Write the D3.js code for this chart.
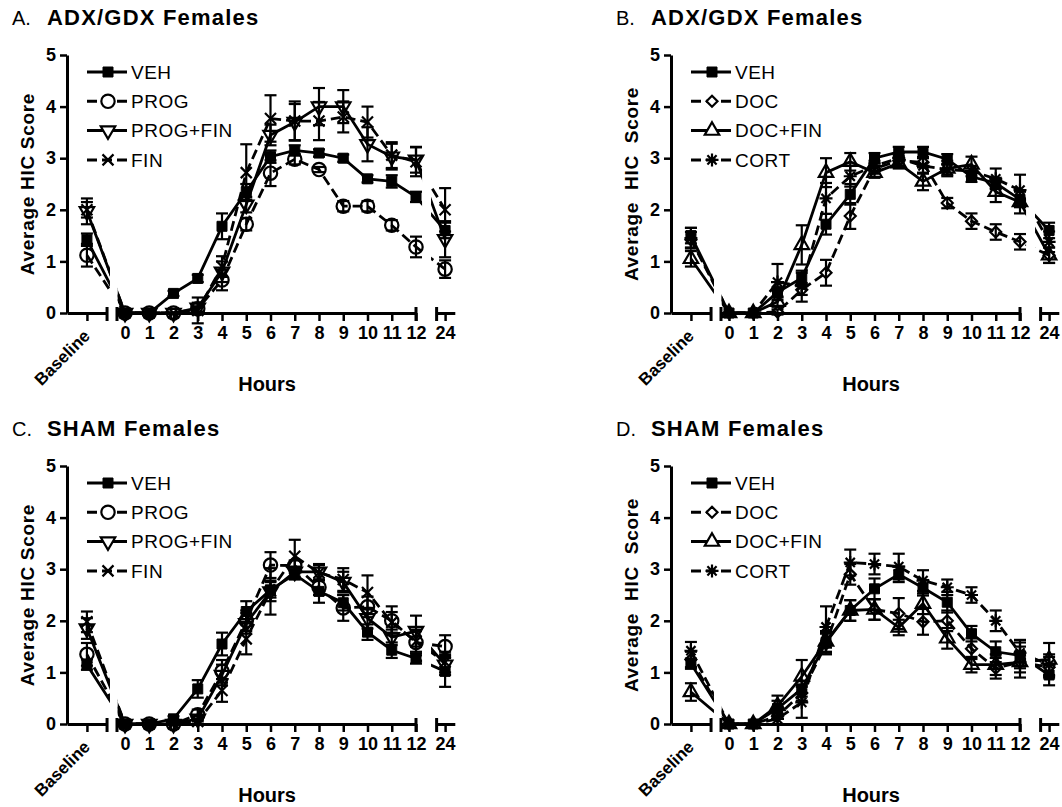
<!DOCTYPE html>
<html>
<head>
<meta charset="utf-8">
<script src="https://cdn.jsdelivr.net/npm/d3@7"></script>
<style>
  body { margin: 0; background: #fff; }
  text { font-family: "Liberation Sans", Arial, Helvetica, sans-serif; }
</style>
</head>
<body>
<div id="chart"></div>
<script>
'use strict';

// time points on the x axis (Baseline, hours 0-12, 24)
const timeLabels = ['Baseline', '0', '1', '2', '3', '4', '5', '6', '7', '8', '9', '10', '11', '12', '24'];
const yTicks = [0, 1, 2, 3, 4, 5];

// A. ADX/GDX females
const aVeh        = [1.42, 0, 0, 0.38, 0.67, 1.68, 2.35, 3.03, 3.15, 3.10, 3.00, 2.60, 2.55, 2.25, 1.60];
const aVehErr     = [0.12, 0, 0, 0.05, 0.07, 0.25, 0.15, 0.12, 0.10, 0.07, 0.07, 0.07, 0.12, 0.10, 0.15];
const aProg       = [1.12, 0, 0, 0, 0.08, 0.64, 1.72, 2.71, 2.98, 2.78, 2.07, 2.07, 1.70, 1.28, 0.85];
const aProgErr    = [0.22, 0, 0, 0, 0.05, 0.20, 0.12, 0.25, 0.10, 0.05, 0.10, 0.10, 0.10, 0.20, 0.17];
const aProgFin    = [1.97, 0, 0, 0, 0.10, 0.80, 2.10, 3.45, 3.70, 4.00, 4.00, 3.27, 3.03, 2.97, 1.43];
const aProgFinErr = [0.25, 0, 0, 0, 0.10, 0.20, 0.15, 0.20, 0.35, 0.36, 0.32, 0.33, 0.25, 0.25, 0.35];
const aFin        = [2.00, 0, 0, 0, 0.05, 0.90, 2.72, 3.77, 3.72, 3.72, 3.80, 3.70, 3.06, 2.93, 2.00];
const aFinErr     = [0.15, 0, 0, 0, 0.25, 0.20, 0.55, 0.45, 0.38, 0.37, 0.30, 0.30, 0.25, 0.28, 0.42];

// B. ADX/GDX females
const bVeh        = [1.50, 0, 0, 0.40, 0.68, 1.72, 2.30, 3.00, 3.12, 3.12, 2.98, 2.64, 2.52, 2.20, 1.60];
const bVehErr     = [0.15, 0, 0, 0.10, 0.10, 0.20, 0.20, 0.10, 0.10, 0.10, 0.10, 0.10, 0.10, 0.15, 0.15];
const bDoc        = [1.42, 0, 0, 0.02, 0.45, 0.78, 1.88, 2.80, 2.95, 2.92, 2.13, 1.78, 1.57, 1.38, 1.12];
const bDocErr     = [0.15, 0, 0, 0.05, 0.10, 0.25, 0.25, 0.10, 0.10, 0.10, 0.10, 0.15, 0.15, 0.15, 0.15];
const bDocFin     = [1.05, 0, 0, 0.22, 1.32, 2.72, 2.93, 2.72, 2.90, 2.55, 2.80, 2.88, 2.35, 2.15, 1.12];
const bDocFinErr  = [0.15, 0, 0, 0.10, 0.38, 0.28, 0.17, 0.10, 0.10, 0.17, 0.15, 0.15, 0.20, 0.22, 0.15];
const bCort       = [1.45, 0, 0, 0.60, 0.52, 2.22, 2.65, 2.85, 3.00, 2.85, 2.78, 2.75, 2.60, 2.38, 1.38];
const bCortErr    = [0.20, 0, 0, 0.35, 0.30, 0.30, 0.20, 0.10, 0.10, 0.15, 0.10, 0.10, 0.20, 0.30, 0.20];

// C. SHAM females
const cVeh        = [1.15, 0, 0, 0.10, 0.68, 1.55, 2.18, 2.60, 2.90, 2.57, 2.35, 1.78, 1.43, 1.27, 1.02];
const cVehErr     = [0.10, 0, 0, 0.05, 0.17, 0.22, 0.20, 0.15, 0.10, 0.22, 0.15, 0.15, 0.15, 0.10, 0.30];
const cProg       = [1.35, 0, 0, 0, 0.18, 1.02, 2.00, 3.08, 3.07, 2.65, 2.25, 2.27, 2.00, 1.58, 1.50];
const cProgErr    = [0.22, 0, 0, 0, 0.10, 0.22, 0.20, 0.25, 0.10, 0.15, 0.25, 0.20, 0.28, 0.25, 0.22];
const cProgFin    = [1.85, 0, 0, 0, 0.10, 0.95, 1.95, 2.57, 2.95, 2.95, 2.75, 2.05, 1.68, 1.80, 1.15];
const cProgFinErr = [0.20, 0, 0, 0, 0.05, 0.20, 0.20, 0.45, 0.10, 0.15, 0.20, 0.20, 0.15, 0.30, 0.20];
const cFin        = [1.98, 0, 0, 0, 0.05, 0.65, 1.65, 2.58, 3.25, 2.93, 2.80, 2.55, 1.97, 1.60, 1.20];
const cFinErr     = [0.20, 0, 0, 0, 0.05, 0.22, 0.30, 0.20, 0.32, 0.15, 0.22, 0.33, 0.20, 0.20, 0.20];

// D. SHAM females
const dVeh        = [1.17, 0, 0, 0.30, 0.68, 1.58, 2.20, 2.62, 2.90, 2.64, 2.36, 1.75, 1.40, 1.33, 0.95];
const dVehErr     = [0.10, 0, 0, 0.15, 0.15, 0.20, 0.20, 0.20, 0.15, 0.15, 0.20, 0.15, 0.20, 0.25, 0.20];
const dDoc        = [1.25, 0, 0, 0.15, 0.60, 1.55, 2.90, 2.22, 2.14, 1.98, 2.00, 1.46, 1.08, 1.20, 1.10];
const dDocErr     = [0.15, 0, 0, 0.05, 0.15, 0.20, 0.20, 0.20, 0.30, 0.25, 0.20, 0.20, 0.20, 0.20, 0.20];
const dDocFin     = [0.62, 0, 0, 0.35, 0.92, 1.60, 2.20, 2.22, 1.87, 2.33, 1.66, 1.15, 1.15, 1.20, 1.25];
const dDocFinErr  = [0.17, 0, 0, 0.20, 0.32, 0.20, 0.20, 0.20, 0.15, 0.20, 0.20, 0.15, 0.20, 0.30, 0.32];
const dCort       = [1.42, 0, 0, 0.10, 0.42, 1.88, 3.13, 3.10, 3.05, 2.78, 2.65, 2.50, 2.00, 1.38, 1.15];
const dCortErr    = [0.17, 0, 0, 0.10, 0.30, 0.40, 0.25, 0.20, 0.25, 0.20, 0.15, 0.15, 0.20, 0.25, 0.20];

const panels = [
  { letter: 'A.', title: 'ADX/GDX Females', ylab: 'Average HIC Score', series: [
    { name: 'VEH', values: aVeh, err: aVehErr, marker: 'square', dashed: false },
    { name: 'PROG', values: aProg, err: aProgErr, marker: 'circle', dashed: true },
    { name: 'PROG+FIN', values: aProgFin, err: aProgFinErr, marker: 'triDown', dashed: false },
    { name: 'FIN', values: aFin, err: aFinErr, marker: 'times', dashed: true }]},
  { letter: 'B.', title: 'ADX/GDX Females', ylab: 'Average  HIC  Score', series: [
    { name: 'VEH', values: bVeh, err: bVehErr, marker: 'square', dashed: false },
    { name: 'DOC', values: bDoc, err: bDocErr, marker: 'diamond', dashed: true },
    { name: 'DOC+FIN', values: bDocFin, err: bDocFinErr, marker: 'triUp', dashed: false },
    { name: 'CORT', values: bCort, err: bCortErr, marker: 'star', dashed: true }]},
  { letter: 'C.', title: 'SHAM Females', ylab: 'Average HIC Score', series: [
    { name: 'VEH', values: cVeh, err: cVehErr, marker: 'square', dashed: false },
    { name: 'PROG', values: cProg, err: cProgErr, marker: 'circle', dashed: true },
    { name: 'PROG+FIN', values: cProgFin, err: cProgFinErr, marker: 'triDown', dashed: false },
    { name: 'FIN', values: cFin, err: cFinErr, marker: 'times', dashed: true }]},
  { letter: 'D.', title: 'SHAM Females', ylab: 'Average  HIC  Score', series: [
    { name: 'VEH', values: dVeh, err: dVehErr, marker: 'square', dashed: false },
    { name: 'DOC', values: dDoc, err: dDocErr, marker: 'diamond', dashed: true },
    { name: 'DOC+FIN', values: dDocFin, err: dDocFinErr, marker: 'triUp', dashed: false },
    { name: 'CORT', values: dCort, err: dCortErr, marker: 'star', dashed: true }]}
];

// layout
const width = 1062, height = 807;
const origins = [[67, 313], [671, 313], [67, 724], [671, 724]];  // y-axis x, zero line y
const step = 24.25, plotH = 258;
// axis units: baseline sits left of hour 0, 24 h sits past a break
const timeUnits = [-1.57, 0, 1, 2, 3, 4, 5, 6, 7, 8, 9, 10, 11, 12, 13.2];
const segments = [[-2.39, -0.74], [-0.33, 12], [12.85, 13.6]];
const visible = [[-3, -0.62], [-0.3, 12.25], [12.62, 14]];
const dash = '10,5';
const tickFont = '18px';

const svg = d3.select('#chart').append('svg')
  .attr('width', width)
  .attr('height', height)
  .style('background', '#fff');

function markerPath(type){
  const p = d3.path();
  if(type === 'times'){
    p.moveTo(-5.5, -5.5); p.lineTo(5.5, 5.5);
    p.moveTo(-5.5, 5.5); p.lineTo(5.5, -5.5);
    return p.toString();
  }
  if(type === 'star'){
    for(let k = 0; k < 4; k++){
      const a = k * Math.PI / 4, r = 6.5;
      p.moveTo(-r * Math.cos(a), -r * Math.sin(a));
      p.lineTo(r * Math.cos(a), r * Math.sin(a));
    }
    return p.toString();
  }
  if(type === 'diamond'){
    p.moveTo(0, -5.5); p.lineTo(5.5, 0); p.lineTo(0, 5.5); p.lineTo(-5.5, 0); p.closePath();
    return p.toString();
  }
  if(type === 'square') return d3.symbol().type(d3.symbolSquare).size(100)();
  if(type === 'circle') return d3.symbol().type(d3.symbolCircle).size(140)();
  return d3.symbol().type(d3.symbolTriangle).size(90)();
}

function drawMarker(sel, type){
  sel.attr('d', markerPath(type))
    .attr('fill', type === 'square' ? '#000' : 'none')
    .attr('stroke', '#000')
    .attr('stroke-width', type === 'square' ? 1 : 2.2);
}

panels.forEach((panel, i) => {
  const [ox, oy] = origins[i];
  const g = svg.append('g');

  const unit = d3.scaleOrdinal().domain(timeLabels).range(timeUnits);
  const x = d3.scaleLinear().domain([0, 12]).range([ox + 58, ox + 58 + 12 * step]);
  const y = d3.scaleLinear().domain([0, 5]).range([oy, oy - plotH]);
  const px = t => x(unit(t));
  const labelOf = new Map(timeLabels.map(t => [unit(t), t]));

  // titles
  g.append('text')
    .attr('x', ox - 55).attr('y', oy - 288)
    .style('font-size', '20px')
    .text(panel.letter);
  g.append('text')
    .attr('x', ox - 20).attr('y', oy - 288)
    .style('font-size', '22px')
    .style('font-weight', 'bold')
    .style('letter-spacing', '1.2px')
    .text(panel.title);

  // y axis
  const yAxis = g.append('g')
    .attr('transform', `translate(${ox},0)`)
    .call(d3.axisLeft(y).tickValues(yTicks).tickSize(7).tickSizeOuter(0).tickPadding(4).tickFormat(d3.format('d')));
  yAxis.select('.domain').attr('stroke-width', 3);
  yAxis.selectAll('.tick line').attr('stroke-width', 2.5);
  yAxis.selectAll('text')
    .style('font-size', tickFont).style('font-weight', 'bold')
    .style('font-family', '"Liberation Sans", Arial, sans-serif')
    .attr('fill', '#000');

  // y label
  g.append('text')
    .attr('transform', `translate(${ox - 33},${(y(0) + y(5)) / 2}) rotate(-90)`)
    .attr('text-anchor', 'middle')
    .style('font-size', '19px')
    .style('font-weight', 'bold')
    .style('letter-spacing', '0.7px')
    .style('white-space', 'pre')
    .text(panel.ylab);

  // broken x axis
  segments.forEach(s => {
    const seg = d3.scaleLinear().domain(s).range(s.map(v => x(v)));
    const ticks = timeUnits.filter(u => u >= s[0] && u <= s[1]);
    const ax = g.append('g')
      .attr('transform', `translate(0,${oy})`)
      .call(d3.axisBottom(seg).tickValues(ticks).tickSize(8).tickSizeOuter(0).tickPadding(5)
        .tickFormat(u => labelOf.get(u) === 'Baseline' ? '' : labelOf.get(u)));
    ax.select('.domain').attr('stroke-width', 3);
    ax.selectAll('.tick line').attr('stroke-width', 2.5);
    ax.selectAll('text')
      .style('font-size', tickFont).style('font-weight', 'bold')
      .style('font-family', '"Liberation Sans", Arial, sans-serif')
      .attr('fill', '#000');
  });
  // break marks at the segment ends
  [segments[0][1], segments[1][0], segments[1][1], segments[2][0]].forEach(u => {
    g.append('line')
      .attr('x1', x(u)).attr('x2', x(u))
      .attr('y1', oy - 6).attr('y2', oy + 8)
      .attr('stroke', '#000').attr('stroke-width', 3);
  });

  g.append('text')
    .attr('transform', `translate(${px('Baseline') + 4},${oy + 24}) rotate(-45)`)
    .attr('text-anchor', 'end')
    .style('font-size', '17px')
    .style('font-weight', 'bold')
    .text('Baseline');

  g.append('text')
    .attr('x', x(5.86)).attr('y', oy + 78)
    .attr('text-anchor', 'middle')
    .style('font-size', '20px')
    .style('font-weight', 'bold')
    .text('Hours');

  // clip the connecting lines through the axis breaks
  const clipId = 'clip' + i;
  const clip = svg.append('defs').append('clipPath').attr('id', clipId);
  visible.forEach(v => {
    clip.append('rect')
      .attr('x', x(v[0])).attr('width', x(v[1]) - x(v[0]))
      .attr('y', y(5) - 20).attr('height', plotH + 40);
  });

  const line = d3.line()
    .x(d => px(d.t))
    .y(d => y(d.v));

  const rows = panel.series.map(s => ({
    ...s,
    pts: timeLabels.map((t, k) => ({ t: t, v: s.values[k], e: s.err[k] }))
  }));

  const plot = g.append('g');
  rows.forEach(s => {
    plot.append('path')
      .datum(s.pts)
      .attr('clip-path', `url(#${clipId})`)
      .attr('d', line)
      .attr('fill', 'none')
      .attr('stroke', '#000')
      .attr('stroke-width', 2.8)
      .attr('stroke-dasharray', s.dashed ? dash : null);
  });

  rows.forEach(s => {
    const eb = plot.append('g')
      .selectAll('g')
      .data(s.pts.filter(d => d.e > 0))
      .join('g')
      .attr('stroke', '#000')
      .attr('stroke-width', 2.2);
    eb.append('line')
      .attr('x1', d => px(d.t)).attr('x2', d => px(d.t))
      .attr('y1', d => y(d.v - d.e)).attr('y2', d => y(d.v + d.e));
    eb.append('line')
      .attr('x1', d => px(d.t) - 6).attr('x2', d => px(d.t) + 6)
      .attr('y1', d => y(d.v + d.e)).attr('y2', d => y(d.v + d.e));
    eb.append('line')
      .attr('x1', d => px(d.t) - 6).attr('x2', d => px(d.t) + 6)
      .attr('y1', d => y(d.v - d.e)).attr('y2', d => y(d.v - d.e));
  });

  rows.forEach(s => {
    plot.append('g')
      .selectAll('path')
      .data(s.pts)
      .join('path')
      .attr('transform', d => `translate(${px(d.t)},${y(d.v)})${s.marker === 'triDown' ? ' rotate(180)' : ''}`)
      .call(drawMarker, s.marker);
  });

  // legend
  const leg = g.append('g');
  rows.forEach((s, k) => {
    const ly = oy - 241 + k * 29.3;
    leg.append('line')
      .attr('x1', ox + 20).attr('x2', ox + 60)
      .attr('y1', ly).attr('y2', ly)
      .attr('stroke', '#000').attr('stroke-width', 3)
      .attr('stroke-dasharray', s.dashed ? dash : null);
    leg.append('path')
      .attr('transform', `translate(${ox + 41},${ly})${s.marker === 'triDown' ? ' rotate(180)' : ''}`)
      .call(drawMarker, s.marker)
      .attr('fill', s.marker === 'square' ? '#000' : '#fff');
    leg.append('text')
      .attr('x', ox + 64).attr('y', ly)
      .attr('dy', '0.36em')
      .style('font-size', '19px')
      .style('letter-spacing', '0.5px')
      .text(s.name);
  });
});
</script>
</body>
</html>
